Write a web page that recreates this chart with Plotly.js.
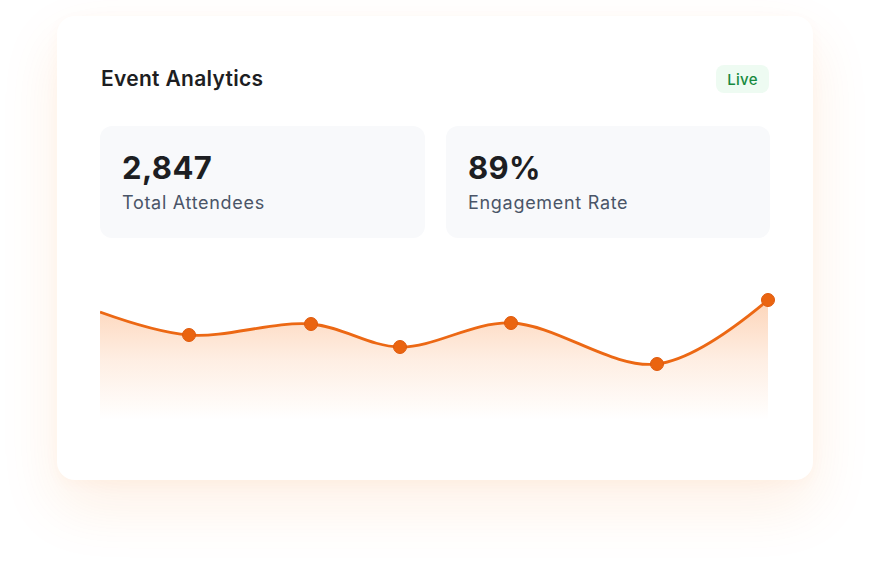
<!DOCTYPE html>
<html>
<head>
<meta charset="utf-8">
<script src="https://cdn.plot.ly/plotly-3.0.1.min.js"></script>
<style>
  html, body { margin:0; padding:0; width:870px; height:575px; background:#ffffff; overflow:hidden; font-family: Inter, "Open Sans", sans-serif; }
  #card { position:absolute; left:57px; top:16px; width:756px; height:464px; background:#ffffff; border-radius:18px;
          box-shadow: 0 26px 60px rgba(249,115,22,0.11), 0 4px 14px rgba(249,115,22,0.04); }
  #title { position:absolute; left:101px; top:66px; font-size:21px; font-weight:600; color:#1d1e22; letter-spacing:0.3px; }
  #live { position:absolute; left:716px; top:65px; width:53px; height:28px; border-radius:8px; background:#eefbf2; color:#178a3f;
          font-size:15px; font-weight:500; text-align:center; line-height:29px; letter-spacing:0.3px; }
  .stat { position:absolute; top:126px; height:112px; background:#f8f9fb; border-radius:12px; }
  .num { position:absolute; left:22px; top:23px; font-size:31px; font-weight:700; color:#1d1e22; letter-spacing:0.4px; }
  .lbl { position:absolute; left:22px; top:66px; font-size:18px; font-weight:400; color:#4a5568; letter-spacing:0.7px; }
  #chart { position:absolute; left:90px; top:270px; width:688px; height:160px; }
</style>
</head>
<body>
<div id="card"></div>
<div id="title">Event Analytics</div>
<div id="live">Live</div>
<div class="stat" style="left:100px; width:325px;"><div class="num" id="n1"></div><div class="lbl" id="l1"></div></div>
<div class="stat" style="left:446px; width:324px;"><div class="num" id="n2"></div><div class="lbl" id="l2"></div></div>
<div id="chart"></div>
<script>
// Stat values
const statValues = ["2,847", "89%"];
const statLabels = ["Total Attendees", "Engagement Rate"];

// Series data (x positions along timeline, values)
const xPos   = [0, 89, 211, 300, 411, 557, 668];
const values = [108, 85, 96, 73, 97, 56, 120];
const showMarker = [false, true, true, true, true, true, true];

document.getElementById('n1').textContent = statValues[0];
document.getElementById('n2').textContent = statValues[1];
document.getElementById('l1').textContent = statLabels[0];
document.getElementById('l2').textContent = statLabels[1];

const trace = {
  x: xPos,
  y: values,
  type: 'scatter',
  mode: 'lines+markers',
  line: { shape: 'spline', smoothing: 1, color: '#ec6814', width: 2.8 },
  marker: {
    size: showMarker.map(s => s ? 13 : 0),
    color: '#ea6410',
    opacity: 1,
    line: { width: 1, color: '#df5a0d' }
  },
  fill: 'tozeroy',
  fillgradient: {
    type: 'vertical',
    start: 0,
    stop: 120,
    colorscale: [[0, 'rgba(249,115,22,0)'], [0.5, 'rgba(249,115,22,0.12)'], [1, 'rgba(249,115,22,0.30)']]
  },
  cliponaxis: false,
  hoverinfo: 'skip'
};

const layout = {
  width: 688, height: 160,
  margin: { l: 10, r: 10, t: 10, b: 10 },
  paper_bgcolor: 'rgba(0,0,0,0)',
  plot_bgcolor: 'rgba(0,0,0,0)',
  showlegend: false,
  xaxis: { range: [0, 668], visible: false, fixedrange: true },
  yaxis: { range: [0, 140], visible: false, fixedrange: true }
};

Plotly.newPlot('chart', [trace], layout, { displayModeBar: false, staticPlot: true });
</script>
</body>
</html>
